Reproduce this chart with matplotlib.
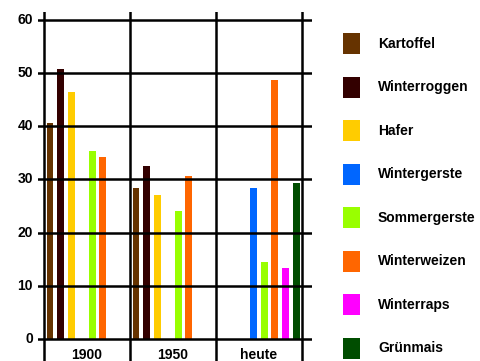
import matplotlib.pyplot as plt
import numpy as np

plt.rcParams['font.family'] = ['Liberation Sans', 'DejaVu Sans']

groups = ['1900', '1950', 'heute']
crops = ['Kartoffel', 'Winterroggen', 'Hafer', 'Wintergerste',
         'Sommergerste', 'Winterweizen', 'Winterraps', 'Grünmais']
colors = ['#663300', '#330000', '#ffcc00', '#0066ff',
          '#99ff00', '#ff6600', '#ff00ff', '#004d00']

# Ertrag je Kultur, eine Liste pro Zeitpunkt (nan = keine Angabe)
y1900 = [40.6, 50.8, 46.4, np.nan, 35.3, 34.3, np.nan, np.nan]
y1950 = [28.4, 32.6, 27.1, np.nan, 24.1, 30.6, np.nan, np.nan]
heute = [np.nan, np.nan, np.nan, 28.3, 14.4, 48.6, 13.4, 29.4]
values = np.array([y1900, y1950, heute])

yticks = [0, 10, 20, 30, 40, 50, 60]
fs = 10

fig = plt.figure(figsize=(4.8, 3.61), dpi=100)
# axes spans px 38..312 horizontally, 12..361 vertically
ax = fig.add_axes([38 / 480, 0, 274 / 480, 349 / 361])
ax.set_xlim(-6 / 86, 268 / 86)
ax.set_ylim(-22 / 5.32, (339 - 12) / 5.32)
ax.axis('off')

for y in yticks:
    ax.axhline(y, color='black', lw=1.8, zorder=3)
    ax.text(-0.13, y, str(y), ha='right', va='center', fontsize=fs,
            fontweight='bold', clip_on=False)
for xv in range(len(groups) + 1):
    ax.axvline(xv, color='black', lw=1.8, zorder=3)

slot = 0.123
width = 0.08
for k, (crop, col) in enumerate(zip(crops, colors)):
    xs = np.arange(len(groups)) + 0.07 + k * slot
    ax.bar(xs, values[:, k], width=width, color=col, label=crop, zorder=2)

for i, g in enumerate(groups):
    ax.text(i + 0.5, -1.6, g, ha='center', va='top', fontsize=fs,
            fontweight='bold', clip_on=False)

handles, labels = ax.get_legend_handles_labels()
fig.legend(handles, labels, loc='upper left',
           bbox_to_anchor=(343 / 480, 1 - 33 / 361), frameon=False,
           prop={'weight': 'bold', 'size': fs},
           handlelength=1.22, handleheight=1.95, handletextpad=1.3,
           labelspacing=1.62, borderpad=0, borderaxespad=0)

fig.savefig('out.png', dpi=100)
